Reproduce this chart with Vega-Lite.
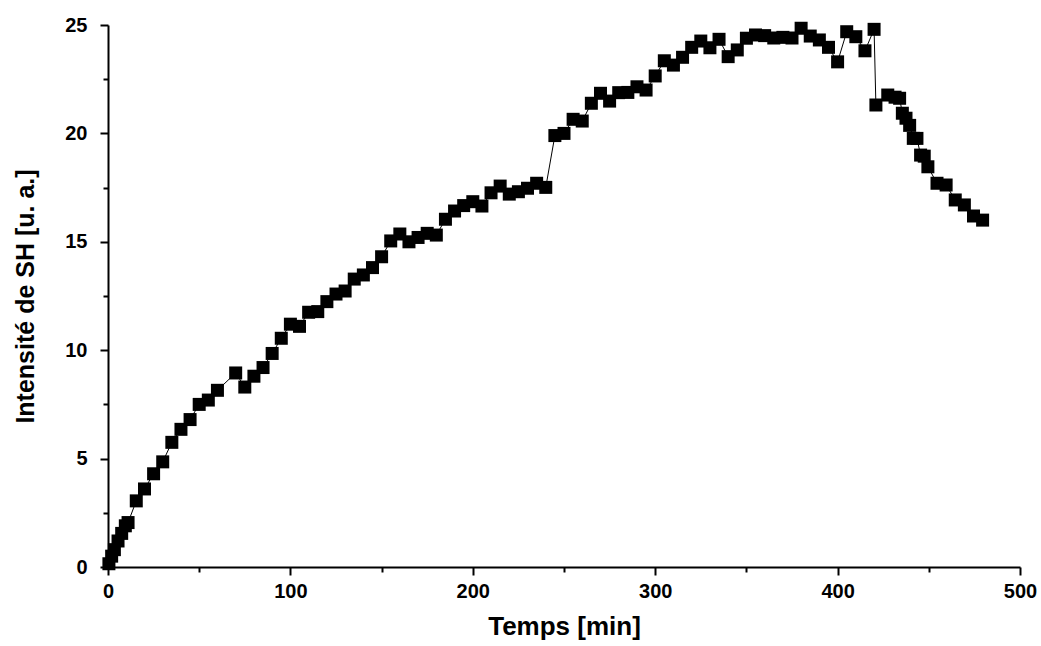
{
  "$schema": "https://vega.github.io/schema/vega-lite/v6.json",
  "width": 912,
  "height": 542,
  "autosize": {"type": "none"},
  "padding": {"left": 108, "top": 25, "right": 21, "bottom": 79},
  "background": "white",
  "config": {
    "view": {"stroke": null},
    "font": "Liberation Sans"
  },
  "data": {
    "values": [
      {"t": 0.5, "sh": 0.15}, {"t": 2, "sh": 0.5}, {"t": 3.5, "sh": 0.8}, {"t": 5.5, "sh": 1.2},
      {"t": 7.5, "sh": 1.55}, {"t": 9.5, "sh": 1.9}, {"t": 11, "sh": 2.05}, {"t": 15.5, "sh": 3.05},
      {"t": 20, "sh": 3.6}, {"t": 25, "sh": 4.3}, {"t": 30, "sh": 4.85}, {"t": 35, "sh": 5.75},
      {"t": 40, "sh": 6.35}, {"t": 45, "sh": 6.8}, {"t": 50, "sh": 7.5}, {"t": 55, "sh": 7.7},
      {"t": 60, "sh": 8.15}, {"t": 70, "sh": 8.95}, {"t": 75, "sh": 8.3}, {"t": 80, "sh": 8.8},
      {"t": 85, "sh": 9.2}, {"t": 90, "sh": 9.85}, {"t": 95, "sh": 10.55}, {"t": 100, "sh": 11.2},
      {"t": 105, "sh": 11.1}, {"t": 110, "sh": 11.75}, {"t": 115, "sh": 11.78}, {"t": 120, "sh": 12.24},
      {"t": 125, "sh": 12.59}, {"t": 130, "sh": 12.73}, {"t": 135, "sh": 13.28}, {"t": 140, "sh": 13.47},
      {"t": 145, "sh": 13.81}, {"t": 150, "sh": 14.31}, {"t": 155, "sh": 15.04}, {"t": 160, "sh": 15.36},
      {"t": 165, "sh": 15.0}, {"t": 170, "sh": 15.2}, {"t": 175, "sh": 15.39}, {"t": 180, "sh": 15.31},
      {"t": 185, "sh": 16.04}, {"t": 190, "sh": 16.42}, {"t": 195, "sh": 16.67}, {"t": 200, "sh": 16.85},
      {"t": 205, "sh": 16.65}, {"t": 210, "sh": 17.26}, {"t": 215, "sh": 17.57}, {"t": 220, "sh": 17.2},
      {"t": 225, "sh": 17.31}, {"t": 230, "sh": 17.47}, {"t": 235, "sh": 17.7}, {"t": 240, "sh": 17.51},
      {"t": 245, "sh": 19.9}, {"t": 250, "sh": 20.0}, {"t": 255, "sh": 20.65}, {"t": 260, "sh": 20.57},
      {"t": 265, "sh": 21.39}, {"t": 270, "sh": 21.85}, {"t": 275, "sh": 21.49}, {"t": 280, "sh": 21.88},
      {"t": 285, "sh": 21.89}, {"t": 290, "sh": 22.15}, {"t": 295, "sh": 22.0}, {"t": 300, "sh": 22.65},
      {"t": 305, "sh": 23.35}, {"t": 310, "sh": 23.15}, {"t": 315, "sh": 23.51}, {"t": 320, "sh": 23.97},
      {"t": 325, "sh": 24.26}, {"t": 330, "sh": 23.95}, {"t": 335, "sh": 24.34}, {"t": 340, "sh": 23.54},
      {"t": 345, "sh": 23.85}, {"t": 350, "sh": 24.39}, {"t": 355, "sh": 24.54}, {"t": 360, "sh": 24.51},
      {"t": 365, "sh": 24.4}, {"t": 370, "sh": 24.43}, {"t": 375, "sh": 24.4}, {"t": 380, "sh": 24.85},
      {"t": 385, "sh": 24.49}, {"t": 390, "sh": 24.31}, {"t": 395, "sh": 23.97}, {"t": 400, "sh": 23.3},
      {"t": 405, "sh": 24.69}, {"t": 410, "sh": 24.46}, {"t": 415, "sh": 23.81}, {"t": 420, "sh": 24.8},
      {"t": 421, "sh": 21.31}, {"t": 427.5, "sh": 21.77}, {"t": 431.5, "sh": 21.67}, {"t": 434, "sh": 21.62},
      {"t": 435.5, "sh": 20.93}, {"t": 437.5, "sh": 20.7}, {"t": 439.5, "sh": 20.37}, {"t": 441.5, "sh": 19.77},
      {"t": 443.5, "sh": 19.77}, {"t": 445.5, "sh": 19.0}, {"t": 447.5, "sh": 18.95}, {"t": 449.5, "sh": 18.46},
      {"t": 454.5, "sh": 17.7}, {"t": 459.5, "sh": 17.62}, {"t": 464.5, "sh": 16.93}, {"t": 469.5, "sh": 16.7},
      {"t": 474.5, "sh": 16.19}, {"t": 479.5, "sh": 16.0}
    ]
  },
  "encoding": {
    "x": {
      "field": "t", "type": "quantitative",
      "scale": {"domain": [0, 500], "nice": false, "zero": false},
      "axis": {
        "title": "Temps [min]",
        "values": [0, 50, 100, 150, 200, 250, 300, 350, 400, 450, 500],
        "labelExpr": "datum.value % 100 === 0 ? datum.label : ''",
        "grid": false,
        "domainColor": "black", "domainWidth": 2,
        "tickColor": "black", "tickWidth": 2,
        "tickSize": {"condition": {"test": "datum.value % 100 !== 0", "value": 5}, "value": 8},
        "labelFont": "Liberation Sans", "labelFontWeight": "bold", "labelFontSize": 20,
        "labelColor": "black", "labelPadding": 6, "labelFlush": false, "labelOverlap": false,
        "titleFont": "Liberation Sans", "titleFontWeight": "bold", "titleFontSize": 26,
        "titleColor": "black", "titlePadding": 12
      }
    },
    "y": {
      "field": "sh", "type": "quantitative",
      "scale": {"domain": [0, 25], "nice": false},
      "axis": {
        "title": "Intensité de SH [u. a.]",
        "values": [0, 2.5, 5, 7.5, 10, 12.5, 15, 17.5, 20, 22.5, 25],
        "labelExpr": "datum.value % 5 === 0 ? datum.label : ''",
        "grid": false,
        "domainColor": "black", "domainWidth": 2,
        "tickColor": "black", "tickWidth": 2,
        "tickSize": {"condition": {"test": "datum.value % 5 !== 0", "value": 5}, "value": 8},
        "labelFont": "Liberation Sans", "labelFontWeight": "bold", "labelFontSize": 20,
        "labelColor": "black", "labelPadding": 13, "labelFlush": false, "labelOverlap": false,
        "titleFont": "Liberation Sans", "titleFontWeight": "bold", "titleFontSize": 25,
        "titleColor": "black", "titlePadding": 26
      }
    }
  },
  "layer": [
    {"mark": {"type": "line", "color": "black", "strokeWidth": 1}},
    {"mark": {"type": "point", "shape": "square", "filled": true, "color": "black", "size": 169, "opacity": 1}}
  ]
}
